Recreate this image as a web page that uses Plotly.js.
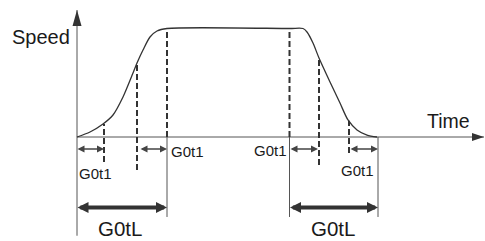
<!DOCTYPE html>
<html>
<head>
<meta charset="utf-8">
<script src="https://cdn.plot.ly/plotly-3.0.1.min.js"></script>
<style>html,body{margin:0;padding:0;background:#fff;}#chart{width:485px;height:241px;}</style>
</head>
<body>
<div id="chart"></div>
<script>
// ---- Data (time units, speed in % of max) ----
const curveTime  = [0, 13, 26, 36, 46, 56, 60, 66, 73, 80, 90, 212.5, 226, 230, 236, 242, 253, 263, 271, 280, 290, 300];
const curveSpeed = [0, 4.6, 12, 20.3, 36.9, 59, 68.2, 80.2, 92.2, 97.7, 100, 100, 100, 96.8, 86.6, 72.8, 50.7, 31.3, 15.7, 6.5, 1.8, 0];

const guideTimes  = [27, 60, 90, 212.5, 242, 272];      // dashed guides
const guideTop    = [12, 68, 100, 100, 72.8, 15];
const guideBottom = [-23, -30.4, 0, 0, -25.8, -14.7];

const extTimes  = [90, 212.5, 301];                      // solid extension lines below axis
const extBottom = -73.7;

const axisTimeMax = 407;     // time axis arrow tip
const axisSpeedMax = 117;    // speed axis arrow tip
const axisSpeedMin = -91;    // speed axis lower end

const t1Start = [0, 63, 213, 273];
const t1End   = [27, 90, 241, 301];
const t1Level = -11;

const tLStart = [0, 212.5];
const tLEnd   = [90, 301];
const tLLevel = -65;

const t1LabelTime  = [18.5, 110.5, 193.5, 280.5];
const t1LabelSpeed = [-33.2, -13.8, -12, -30.9];
const t1Text = 'G0t1';
const tLLabelTime  = [43, 256];
const tLLabelSpeed = [-84, -84];
const tLText = 'G0tL';
const speedLabel = {text: 'Speed', t: -36.5, s: 92};
const timeLabel  = {text: 'Time', t: 371.5, s: 14.5};

// ---- Styles ----
const FONT = 'Liberation Sans, Arial, sans-serif';
const DARK = '#333333';
const AXIS = '#555555';

const traces = [];
// axes lines
traces.push({x:[0, 0], y:[axisSpeedMin, axisSpeedMax], mode:'lines', line:{color:AXIS, width:1}, hoverinfo:'skip'});
traces.push({x:[0, axisTimeMax], y:[0, 0], mode:'lines', line:{color:AXIS, width:1}, hoverinfo:'skip'});
// guides
guideTimes.forEach((t,i)=>{
  traces.push({x:[t,t], y:[guideBottom[i], guideTop[i]], mode:'lines', line:{color:DARK, width:2, dash:'6px,3px'}, hoverinfo:'skip'});
});
extTimes.forEach(t=>{
  traces.push({x:[t,t], y:[extBottom, 0], mode:'lines', line:{color:AXIS, width:1}, hoverinfo:'skip'});
});
// curve
traces.push({x:curveTime, y:curveSpeed, mode:'lines', line:{color:DARK, width:1.3, shape:'spline', smoothing:0.8}, hoverinfo:'skip'});

const annotations = [];
function dbl(x0, x1, y, w, size, color){
  annotations.push({x:x1, y:y, ax:x0, ay:y, xref:'x', yref:'y', axref:'x', ayref:'y', text:'', showarrow:true,
    arrowhead:2, startarrowhead:2, arrowside:'end+start', arrowsize:size, startarrowsize:size,
    arrowwidth:w, arrowcolor:color, standoff:0, startstandoff:0, borderpad:0});
}
t1Start.forEach((s,i)=>dbl(s, t1End[i], t1Level, 1.4, 1.0, '#444'));
tLStart.forEach((s,i)=>dbl(s, tLEnd[i], tLLevel, 4, 0.55, DARK));

function label(text, x, y, size){
  annotations.push({x:x, y:y, xref:'x', yref:'y', text:text, showarrow:false, xanchor:'center', yanchor:'middle',
    font:{family:FONT, size:size, color:'#1a1a1a'}});
}
t1LabelTime.forEach((t,i)=>label(t1Text, t, t1LabelSpeed[i], 15));
tLLabelTime.forEach((t,i)=>label(tLText, t, tLLabelSpeed[i], 20.5));
label(speedLabel.text, speedLabel.t, speedLabel.s, 20);
label(timeLabel.text, timeLabel.t, timeLabel.s, 19.5);

const shapes = [
  {type:'path', xref:'x', yref:'y', xsizemode:'pixel', ysizemode:'pixel', xanchor:0, yanchor:axisSpeedMax,
   path:'M0,0 L-4.5,-16 L4.5,-16 Z', fillcolor:'#333', line:{width:0}},
  {type:'path', xref:'x', yref:'y', xsizemode:'pixel', ysizemode:'pixel', xanchor:axisTimeMax, yanchor:0,
   path:'M0,0 L-12,4 L-12,-4 Z', fillcolor:'#333', line:{width:0}}
];

const layout = {
  width:485, height:241, margin:{l:0, r:0, t:0, b:0},
  paper_bgcolor:'#fff', plot_bgcolor:'#fff', showlegend:false,
  xaxis:{range:[-77, 408], visible:false, fixedrange:true},
  yaxis:{range:[-95.85, 126.27], visible:false, fixedrange:true},
  annotations:annotations, shapes:shapes
};
Plotly.newPlot('chart', traces, layout, {staticPlot:true, displayModeBar:false});
</script>
</body>
</html>
